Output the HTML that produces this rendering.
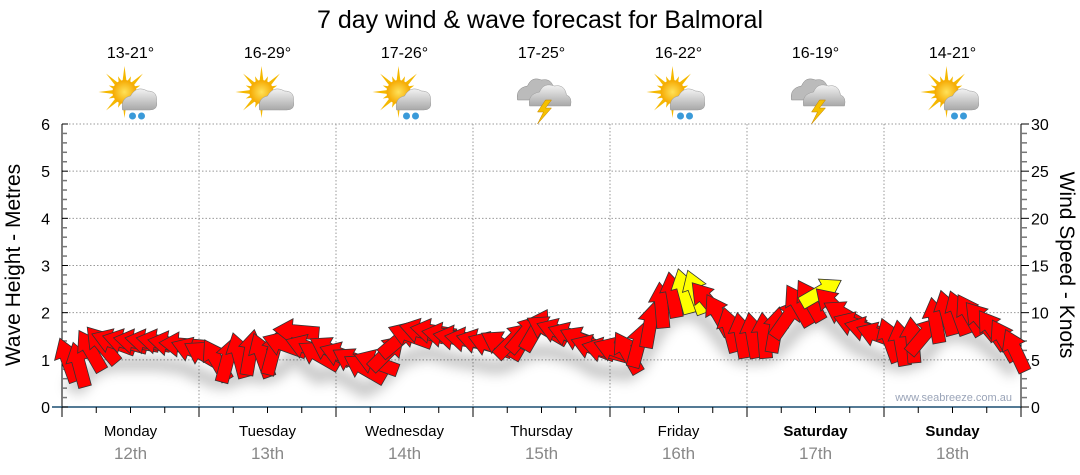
<!DOCTYPE html>
<html><head><meta charset="utf-8"><style>
body{margin:0;background:#fff;font-family:"Liberation Sans","DejaVu Sans",sans-serif;}
svg{display:block}
</style></head><body>
<svg id="chart" width="1080" height="475" viewBox="0 0 1080 475">
<defs>
<filter id="blur" x="-10%" y="-50%" width="120%" height="200%"><feGaussianBlur stdDeviation="6"/></filter>
<radialGradient id="sunG" cx="50%" cy="50%" r="50%"><stop offset="0" stop-color="#ffe25a"/><stop offset="1" stop-color="#f5a800"/></radialGradient>
<linearGradient id="cloudG" x1="0" y1="0" x2="0" y2="1"><stop offset="0" stop-color="#f2f2f2"/><stop offset="1" stop-color="#a8a8a8"/></linearGradient>
</defs>
<text x="540" y="28" text-anchor="middle" font-size="25" fill="#000">7 day wind &amp; wave forecast for Balmoral</text>
<g id="grid"></g>
<g id="header"></g>
<g id="axes"></g>
<path id="shadow" fill="none" stroke="#000" stroke-opacity="0.22" stroke-width="14" filter="url(#blur)"/>
<g id="arrows"></g>
<text x="1012" y="401" text-anchor="end" font-size="11" fill="#9aa4b8">www.seabreeze.com.au</text>
<text transform="translate(20,265) rotate(-90)" text-anchor="middle" font-size="21" fill="#000">Wave Height - Metres</text>
<text transform="translate(1060,265) rotate(90)" text-anchor="middle" font-size="21" fill="#000">Wind Speed - Knots</text>
</svg>
<script>
const days = ["Monday","Tuesday","Wednesday","Thursday","Friday","Saturday","Sunday"];
const dates = ["12th","13th","14th","15th","16th","17th","18th"];
const temps = ["13-21°","16-29°","17-26°","17-25°","16-22°","16-19°","14-21°"];
const icons = ["sunrain","suncloud","sunrain","storm","sunrain","storm","sunrain"];
const waveTicks = [0,1,2,3,4,5,6];
const windTicks = [0,5,10,15,20,25,30];
const windSpeed = [5.0,4.5,6.0,6.6,6.9,6.9,6.9,6.9,6.9,6.7,6.6,6.0,
 5.5,5.0,5.0,5.5,5.8,5.5,5.8,6.6,8.0,6.3,5.5,6.0,
 5.5,4.8,4.1,4.7,5.8,7.1,7.6,8.0,8.0,7.6,7.3,7.1,
 6.9,6.6,6.6,7.1,7.8,8.2,8.2,8.0,7.6,7.1,6.3,6.0,
 6.0,5.8,6.6,8.7,10.8,11.9,12.3,12.2,11.3,9.8,8.2,7.6,
 7.6,7.6,8.2,9.4,10.8,11.3,12.2,10.8,9.8,8.7,8.2,7.6,
 7.1,6.8,7.1,7.6,9.2,10.0,10.0,9.8,9.2,8.2,7.1,6.0];
const windDir = [340,345,330,320,290,285,280,280,280,280,275,290,
 300,330,15,345,10,340,15,290,275,290,300,300,
 290,300,300,290,45,50,290,285,280,280,280,280,
 285,290,300,45,40,30,300,290,290,295,290,285,
 290,330,15,10,355,350,345,340,320,330,345,350,
 350,355,10,35,330,330,60,315,300,290,285,290,
 340,350,355,40,350,345,340,330,320,325,330,335];
const NS="http://www.w3.org/2000/svg";
const X0=62,X1=1021,Y0=407,Y1=124,DAY=(X1-X0)/7;
const xH=h=>X0+h*(X1-X0)/168;
const yWave=m=>Y0-(m/6)*(Y0-Y1);
const yWind=k=>Y0-(k/30)*(Y0-Y1);
function mk(tag,attrs,parent){const e=document.createElementNS(NS,tag);for(const k in attrs)e.setAttribute(k,attrs[k]);parent.appendChild(e);return e;}
const grid=document.getElementById('grid'),axes=document.getElementById('axes'),header=document.getElementById('header'),arrows=document.getElementById('arrows');
waveTicks.forEach((t,i)=>{if(t===0)return;const y=yWave(t);
 const l=mk('line',{x1:X0,x2:X1,y1:y,y2:y,stroke:'#999','stroke-dasharray':'1.5,2','stroke-width':1},grid);
 
 });
for(let d=1;d<7;d++){const x=X0+d*DAY;
 const l=mk('line',{x1:x,x2:x,y1:Y1,y2:Y0,stroke:'#999','stroke-dasharray':'1.5,2','stroke-width':1},grid);
 
 }
mk('line',{x1:X0,x2:X0,y1:Y1,y2:Y0+8,stroke:'#000'},axes);
mk('line',{x1:X1,x2:X1,y1:Y1,y2:Y0+8,stroke:'#000'},axes);
mk('line',{x1:X0-10,x2:X1,y1:Y0,y2:Y0,stroke:'#1b4f72','stroke-width':1.5},axes);
for(let m=0;m<=30;m++){const y=Y0-m*(Y0-Y1)/30;const major=m%5===0;
 mk('line',{x1:X0,x2:X0+(major?6:5),y1:y,y2:y,stroke:major?'#000':'#777','stroke-width':major?1:1.5},axes);
 mk('line',{x1:X1,x2:X1+(major?8:6),y1:y,y2:y,stroke:major?'#000':'#777','stroke-width':major?1:1.5},axes);}
waveTicks.forEach(t=>{const e=mk('text',{x:X0-12,y:yWave(t)+6,'text-anchor':'end','font-size':16,fill:'#000'},axes);e.textContent=t;
 
 });
windTicks.forEach(t=>{const e=mk('text',{x:X1+10,y:yWind(t)+6,'text-anchor':'start','font-size':16,fill:'#000'},axes);e.textContent=t;
 
 });
for(let q=0;q<=28;q++){const x=X0+q*DAY/4;
 mk('line',{x1:x,x2:x,y1:Y0,y2:Y0+(q%4===0?10:6),stroke:'#000'},axes);}
days.forEach((d,i)=>{const cx=X0+(i+0.5)*DAY;
 const t=mk('text',{x:cx,y:436,'text-anchor':'middle','font-size':15,fill:'#000','font-weight':i>=5?'bold':'normal'},axes);t.textContent=d;
 
 
 const s=mk('text',{x:cx,y:459,'text-anchor':'middle','font-size':17,fill:'#888'},axes);s.textContent=dates[i];
 
 
 const tt=mk('text',{x:cx,y:58,'text-anchor':'middle','font-size':16,fill:'#000'},header);tt.textContent=temps[i];
 
 
 const g=mk('g',{transform:`translate(${cx},96)`},header);
 
 
 const type=icons[i];
 if(type!=='storm'){
  for(let r=0;r<16;r++){const a=r*Math.PI/8;const L=r%2?17:26;
   mk('polygon',{points:`${-6+Math.cos(a+0.25)*9},${-4+Math.sin(a+0.25)*9} ${-6+Math.cos(a)*L},${-4+Math.sin(a)*L} ${-6+Math.cos(a-0.25)*9},${-4+Math.sin(a-0.25)*9}`,fill:'#f5b800'},g);}
  mk('circle',{cx:-6,cy:-4,r:12,fill:'url(#sunG)'},g);
  mk('path',{d:'M-8 14 Q-10 2 0 0 Q6 -11 17 -5 Q27 -5 26 5 Q28 14 19 14 Z',fill:'url(#cloudG)',stroke:'#999','stroke-width':0.5},g);
  if(type==='sunrain'){mk('circle',{cx:2,cy:20,r:3.5,fill:'#3a9ad9'},g);mk('circle',{cx:11,cy:20,r:3.5,fill:'#3a9ad9'},g);}
 } else {
  mk('path',{d:'M-24 4 Q-26 -8 -14 -10 Q-10 -20 0 -16 Q10 -18 12 -8 Q20 -6 18 4 Z',fill:'#bbb',stroke:'#888','stroke-width':0.5},g);
  mk('path',{d:'M-12 10 Q-14 -2 -2 -4 Q2 -14 13 -10 Q23 -12 25 -1 Q31 1 29 10 Z',fill:'url(#cloudG)',stroke:'#999','stroke-width':0.5},g);
  mk('polygon',{points:'4,4 -4,16 2,16 -4,28 10,12 4,12 10,4',fill:'#f5c000',stroke:'#c08000','stroke-width':0.5},g);
 }
});
const hrs=windSpeed.map((_,i)=>1+2*i);
let sp='';
windSpeed.forEach((k,i)=>{const x=xH(hrs[i]),y=yWind(k);sp+=(i?'L':'M')+x.toFixed(1)+' '+(y+22).toFixed(1);});
document.getElementById('shadow').setAttribute('d',sp);
windSpeed.forEach((k,i)=>{const x=xH(hrs[i]),y=yWind(k);
 const p=mk('polygon',{points:'0,-23 12.5,-4 6.5,-4 6.5,23 -6.5,23 -6.5,-4 -12.5,-4',fill:k>=12?'#ffff00':'#ff0000',stroke:'#333','stroke-width':0.8,'stroke-linejoin':'miter',transform:`translate(${x.toFixed(1)},${y.toFixed(1)}) rotate(${windDir[i]})`},arrows);
 
 });
</script>
</body></html>
